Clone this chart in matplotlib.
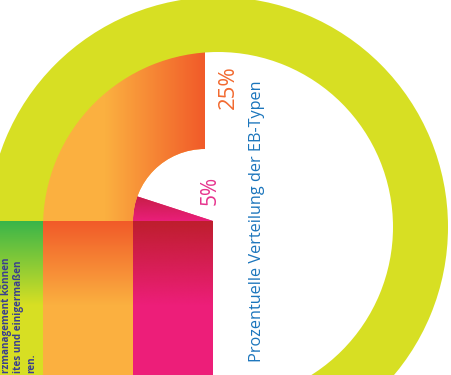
import numpy as np
import matplotlib.pyplot as plt
from matplotlib.patches import Wedge, Rectangle
from matplotlib.colors import to_rgb

# data
shares = [25, 5]
share_labels = ["25%", "5%"]
title = "Prozentuelle Verteilung der EB-Typen"
side_lines = ["rzmanagement können", "ites und einigermaßen", "ren."]

W, H = 451, 375
plt.rcParams["font.family"] = ["Open Sans", "DejaVu Sans"]


def gradient(ax, x0, x1, y0, y1, c0, c1, horizontal=False, clip=None, z=1):
    """Linear gradient image, c0 at left/bottom, c1 at right/top."""
    t = np.linspace(0, 1, 256)[:, None]
    a, b = np.array(to_rgb(c0)), np.array(to_rgb(c1))
    cols = a + (b - a) * t
    img = cols[None, :, :] if horizontal else cols[:, None, :]
    im = ax.imshow(img, extent=(x0, x1, y0, y1), origin="lower",
                   aspect="auto", interpolation="bilinear", zorder=z)
    if clip is not None:
        im.set_clip_path(clip)
    return im


fig = plt.figure(figsize=(W / 100, H / 100), dpi=100)
ax = fig.add_axes([0, 0, 1, 1])

# layout (pixel positions, y measured from bottom)
ring_c = (218, H - 227)
ring_r, ring_w = 230, 55
pie_c = (205, H - 221)
orange_r, orange_in = 178, 72
pink_c = (213, H - 221)
pink_r = 80
top_y = H - 221
fade_y = H - 305

# angles from the shares, going clockwise from the left (180 deg)
orange_t1 = 180 - 360 * shares[0] / 100
pink_t1 = 180 - 360 * shares[1] / 100

# pink 5% wedge
pink = Wedge(pink_c, pink_r, pink_t1, 180, facecolor="#ea1e7a",
             edgecolor="none", zorder=1)
ax.add_patch(pink)
gradient(ax, pink_c[0] - pink_r, pink_c[0], top_y, top_y + 30,
         "#ea1e7a", "#c01e3c", clip=pink, z=1.1)

# orange 25% ring segment
orange = Wedge(pie_c, orange_r, orange_t1, 180, width=orange_r - orange_in,
               facecolor="#fbb040", edgecolor="none", zorder=1.5)
ax.add_patch(orange)
gradient(ax, 105, pie_c[0], top_y, H, "#fbb040", "#f15a29",
         horizontal=True, clip=orange, z=1.6)

# big background ring
ax.add_patch(Wedge(ring_c, ring_r, 0, 360, width=ring_w,
                   facecolor="#d7df23", edgecolor="none", zorder=2))

# columns running down from the ring
green_x0, green_x1 = 0, ring_c[0] - (ring_r - ring_w)
orange_x1 = pie_c[0] - orange_in
pink_x1 = pink_c[0]
columns = [
    (green_x0, green_x1, "#39b54a", "#d7df23"),
    (green_x1, orange_x1, "#f15a29", "#fbb040"),
    (orange_x1, pink_x1, "#be1e2d", "#ed1e79"),
]
for x0, x1, c_top, c_bot in columns:
    ax.add_patch(Rectangle((x0, 0), x1 - x0, fade_y, facecolor=c_bot,
                           edgecolor="none", zorder=3))
    gradient(ax, x0, x1, fade_y, top_y, c_bot, c_top, z=3)

# labels
ax.text(257, H - 221, title, rotation=90, ha="center", va="center",
        fontsize=11.7, color="#1b75bc", zorder=5)
ax.text(228, H - 87, share_labels[0], rotation=90, ha="center", va="center",
        fontsize=16, color="#f26a30", zorder=5)
ax.text(210, H - 190, share_labels[1], rotation=90, ha="center", va="center",
        fontsize=15, color="#e6338d", zorder=5)

side_x = [7, 19, 31.5]
for x, s in zip(side_x, side_lines):
    ax.text(x, H - 373, s, rotation=90, rotation_mode="anchor", ha="left",
            va="center", fontsize=7.1, fontweight="bold", color="#3a3f8f",
            zorder=5)

ax.set_xlim(0, W)
ax.set_ylim(0, H)
ax.axis("off")
fig.savefig("out.png", dpi=100)
